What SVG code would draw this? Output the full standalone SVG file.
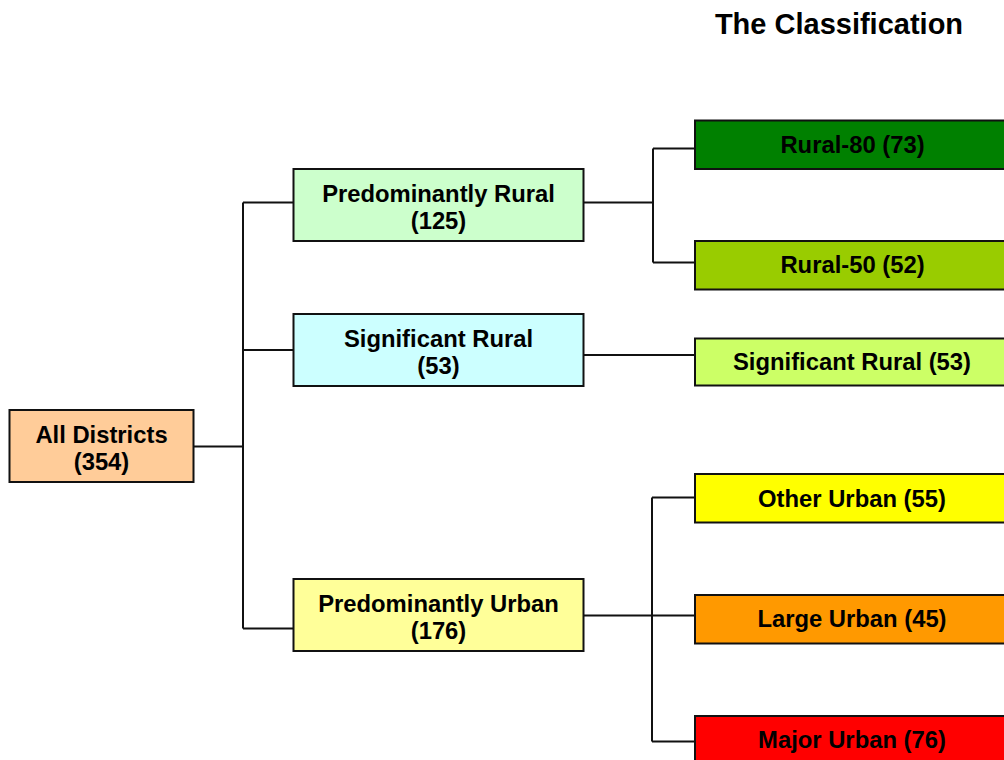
<svg xmlns="http://www.w3.org/2000/svg" width="1004" height="760" viewBox="0 0 1004 760">
<style>
.box{stroke:#111;stroke-width:2}
.t{font-family:"Liberation Sans",Arial,sans-serif;font-weight:bold;font-size:23.8px;fill:#000;text-anchor:middle}
.title{font-family:"Liberation Sans",Arial,sans-serif;font-weight:bold;font-size:29px;fill:#000;text-anchor:middle}
.c{fill:none;stroke:#111;stroke-width:2}
</style>
<rect width="1004" height="760" fill="#fff"/>
<text class="title" x="839" y="34">The Classification</text>
<g id="connectors">
<path class="c" d="M193 446.5H243M243 202.5V628.5M243 202.5H293M243 350H293M243 628.5H293"/>
<path class="c" d="M583 202.5H653M653 148.5V262.5M653 148.5H694M653 262.5H694"/>
<path class="c" d="M583 355H694"/>
<path class="c" d="M583 615.5H694M652 497.5V741.5M652 497.5H694M652 741.5H694"/>
</g>
<g id="all-districts">
<rect class="box" x="9.5" y="410" width="184" height="72" fill="#FFCC99"/>
<text class="t" x="101.5" y="443">All Districts</text>
<text class="t" x="101.5" y="470">(354)</text>
</g>
<g id="predominantly-rural">
<rect class="box" x="293.5" y="169" width="290" height="72" fill="#CCFFCC"/>
<text class="t" x="438.5" y="202">Predominantly Rural</text>
<text class="t" x="438.5" y="229">(125)</text>
</g>
<g id="significant-rural">
<rect class="box" x="293.5" y="314" width="290" height="72" fill="#CCFFFF"/>
<text class="t" x="438.5" y="347">Significant Rural</text>
<text class="t" x="438.5" y="374">(53)</text>
</g>
<g id="predominantly-urban">
<rect class="box" x="293.5" y="579" width="290" height="72" fill="#FFFF99"/>
<text class="t" x="438.5" y="612">Predominantly Urban</text>
<text class="t" x="438.5" y="639">(176)</text>
</g>
<g id="rural-80">
<rect class="box" x="695" y="120.5" width="320" height="48.5" fill="#008000"/>
<text class="t" x="852.5" y="152.5">Rural-80 (73)</text>
</g>
<g id="rural-50">
<rect class="box" x="695" y="241" width="320" height="48.5" fill="#99CC00"/>
<text class="t" x="852.5" y="273">Rural-50 (52)</text>
</g>
<g id="significant-rural-53">
<rect class="box" x="695" y="338.5" width="320" height="47" fill="#CCFF66"/>
<text class="t" x="852" y="370">Significant Rural (53)</text>
</g>
<g id="other-urban">
<rect class="box" x="695" y="474" width="320" height="48.5" fill="#FFFF00"/>
<text class="t" x="852" y="506.5">Other Urban (55)</text>
</g>
<g id="large-urban">
<rect class="box" x="695" y="595" width="320" height="48.5" fill="#FF9900"/>
<text class="t" x="852" y="627">Large Urban (45)</text>
</g>
<g id="major-urban">
<rect class="box" x="695" y="716" width="320" height="48.5" fill="#FF0000"/>
<text class="t" x="852" y="748">Major Urban (76)</text>
</g>
</svg>
